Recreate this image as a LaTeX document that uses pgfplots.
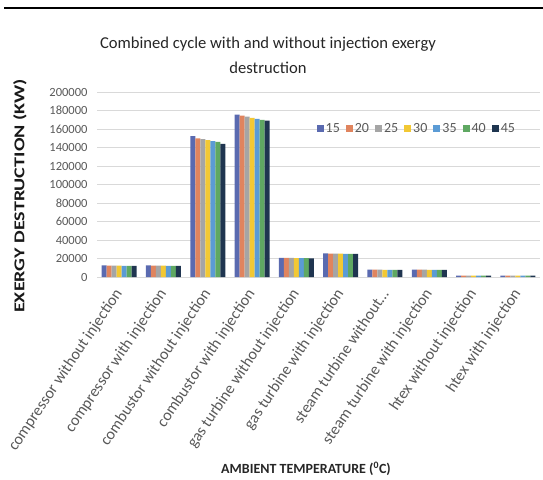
\documentclass[border=0pt]{standalone}
\usepackage{pgfplots}
\pgfplotsset{compat=1.18}
\usepackage{fontspec}
\setmainfont{Carlito}
\definecolor{cA}{HTML}{5A6AB0}
\definecolor{cB}{HTML}{E0845E}
\definecolor{cC}{HTML}{A5A5A5}
\definecolor{cD}{HTML}{F2C834}
\definecolor{cE}{HTML}{5B9BD5}
\definecolor{cF}{HTML}{5FA862}
\definecolor{cG}{HTML}{1F3550}
\definecolor{tickgray}{HTML}{595959}
\begin{document}
\begin{tikzpicture}[x=1pt,y=1pt]
\useasboundingbox (0,0) rectangle (543,479);
\draw[line width=2pt] (4,471) -- (543,471);
\node[font=\fontsize{16.6}{25}\selectfont, color=black!85, align=center] at (268,424) {Combined cycle with and without injection exergy\\destruction};
\node[font=\fontsize{15}{18}\selectfont\bfseries, rotate=90, color=black!90] at (20,283) {\scalebox{1.34}[1]{EXERGY DESTRUCTION (KW)}};
\node[font=\fontsize{14}{16}\selectfont\bfseries, color=black!85] at (306,10) {AMBIENT TEMPERATURE (\textsuperscript{0}C)};
\begin{axis}[
  at={(97pt,202pt)}, anchor=south west,
  width=443pt, height=185pt, scale only axis,
  ybar=0pt, bar width=5pt,
  xmin=-0.5, xmax=9.5, ymin=0, ymax=200000,
  xtick=data,
  xticklabels={{compressor without injection}, {compressor with injection}, {combustor without injection}, {combustor with injection}, {gas turbine without injection}, {gas turbine with injection}, {steam turbine without\ldots}, {steam turbine with injection}, {htex without injection}, {htex with injection}},
  xticklabel shift=14pt,
  x tick label style={rotate=56, anchor=east, font=\fontsize{16}{18}\selectfont, color=tickgray, inner sep=0pt},
  ytick={0,20000,40000,60000,80000,100000,120000,140000,160000,180000,200000},
  yticklabels={0,20000,40000,60000,80000,100000,120000,140000,160000,180000,200000},
  scaled y ticks=false,
  y tick label style={font=\fontsize{12.5}{14}\selectfont, color=tickgray, xshift=-6pt},
  ymajorgrids, grid style={draw=black!15, line width=0.8pt},
  axis line style={draw=none},
  axis x line*=bottom, axis y line*=left,
  major tick length=0pt,
  legend style={at={(0.722,0.80)}, anchor=center, draw=none, fill=none, legend columns=-1, font=\fontsize{14}{16}\selectfont, text=tickgray, /tikz/every even column/.append style={column sep=4pt}},
  legend image code/.code={\draw[#1, draw=none] (0pt,-3.5pt) rectangle (7pt,3.5pt);},
]
\addplot[fill=cA, draw=none] coordinates {(0,12500) (1,12500) (2,152400) (3,175500) (4,20800) (5,25500) (6,8000) (7,8000) (8,1500) (9,1500)};
\addplot[fill=cB, draw=none] coordinates {(0,12400) (1,12400) (2,150000) (3,174500) (4,20700) (5,25400) (6,7900) (7,7900) (8,1500) (9,1500)};
\addplot[fill=cC, draw=none] coordinates {(0,12300) (1,12300) (2,149000) (3,173500) (4,20600) (5,25300) (6,7900) (7,7900) (8,1500) (9,1500)};
\addplot[fill=cD, draw=none] coordinates {(0,12200) (1,12200) (2,148000) (3,172000) (4,20500) (5,25200) (6,7800) (7,7800) (8,1500) (9,1500)};
\addplot[fill=cE, draw=none] coordinates {(0,12100) (1,12100) (2,147000) (3,171000) (4,20400) (5,25100) (6,7800) (7,7800) (8,1500) (9,1500)};
\addplot[fill=cF, draw=none] coordinates {(0,12000) (1,12000) (2,146000) (3,170000) (4,20300) (5,25000) (6,7700) (7,7700) (8,1500) (9,1500)};
\addplot[fill=cG, draw=none] coordinates {(0,11900) (1,11900) (2,144000) (3,169000) (4,20200) (5,24900) (6,7700) (7,7700) (8,1500) (9,1500)};
\legend{15,20,25,30,35,40,45}
\end{axis}
\end{tikzpicture}
\end{document}
